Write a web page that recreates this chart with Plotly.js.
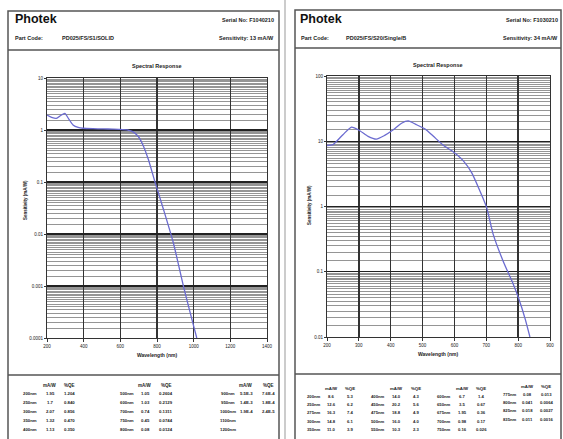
<!DOCTYPE html>
<html>
<head>
<meta charset="utf-8">
<script src="https://cdn.plot.ly/plotly-3.0.1.min.js"></script>
<style>html,body{margin:0;padding:0;background:#fff;}#chart{width:563px;height:439px;}</style>
</head>
<body>
<div id="chart"></div>
<script>
// ---------- DATA ----------
// Left sheet: PD025/FS/S1/SOLID
const leftWavelength = [200, 225, 251, 275, 297, 320, 342, 370, 397, 450, 506, 560, 598, 640, 670, 698, 725, 753, 789, 835, 889, 944, 990, 1017];
const leftSensitivity = [1.94, 1.75, 1.67, 1.9, 2.08, 1.6, 1.25, 1.12, 1.08, 1.06, 1.05, 1.04, 1.03, 1.0, 0.92, 0.75, 0.5, 0.27, 0.1, 0.03, 0.0068, 0.001, 0.00023, 0.0001];
const leftXTicks = [200, 400, 600, 800, 1000, 1200, 1400];
const leftYTicks = [0.0001, 0.001, 0.01, 0.1, 1, 10];
const leftYTickText = ["0.0001", "0.001", "0.01", "0.1", "1", "10"];

// Right sheet: PD025/FS/S20/Single/B
const rightWavelength = [200, 219, 250, 277, 303, 329, 355, 381, 408, 434, 455, 481, 508, 534, 565, 596, 628, 654, 680, 701, 722, 753, 785, 801, 822, 837];
const rightSensitivity = [8.6, 8.9, 12.6, 16.5, 14.5, 11.9, 10.8, 12.3, 15.0, 18.9, 20.5, 17.9, 15.4, 11.9, 8.7, 6.9, 5.0, 3.3, 1.73, 0.97, 0.37, 0.145, 0.064, 0.04, 0.019, 0.01];
const rightXTicks = [200, 300, 400, 500, 600, 700, 800, 900];
const rightYTicks = [0.01, 0.1, 1, 10, 100];
const rightYTickText = ["0.01", "0.1", "1", "10", "100"];

// Tables (wavelength, mA/W, %QE)
const leftTableCols = [
  [["200nm","1.95","1.204"],["250nm","1.7","0.840"],["300nm","2.07","0.856"],["350nm","1.32","0.470"],["400nm","1.13","0.350"]],
  [["500nm","1.05","0.2604"],["600nm","1.03","0.2129"],["700nm","0.74","0.1311"],["750nm","0.45","0.0744"],["800nm","0.08","0.0124"]],
  [["900nm","5.5E-3","7.6E-4"],["950nm","1.4E-3","1.8E-4"],["1000nm","1.9E-4","2.4E-5"],["1100nm","",""],["1200nm","",""]]
];
const rightTableCols = [
  [["200nm","8.6","5.3"],["250nm","12.6","6.2"],["275nm","16.3","7.4"],["300nm","14.8","6.1"],["350nm","11.0","3.9"]],
  [["400nm","14.0","4.3"],["450nm","20.2","5.6"],["475nm","18.8","4.9"],["500nm","16.0","4.0"],["550nm","10.3","2.3"]],
  [["600nm","6.7","1.4"],["650nm","3.5","0.67"],["675nm","1.95","0.36"],["700nm","0.98","0.17"],["750nm","0.16","0.026"]],
  [["775nm","0.08","0.013"],["800nm","0.041","0.0064"],["825nm","0.018","0.0027"],["835nm","0.011","0.0016"]]
];

// ---------- LAYOUT HELPERS ----------
const W = 563, H = 439;
const fx = x => x / W;
const fy = y => 1 - y / H;
const FONT = "Liberation Sans, Arial, sans-serif";
const ann = [];
function txt(x, y, s, size, anchor, color) {
  ann.push({xref:'paper', yref:'paper', x: fx(x), y: fy(y), text: s, showarrow:false,
    xanchor: anchor || 'left', yanchor:'middle',
    font:{family:FONT, size:size, color: color || '#222'}});
}
// dense minor gridline positions (style, per decade at half-unit steps)
function minorVals(lo, hi) {
  const v = [];
  for (let e = lo; e < hi; e++) {
    for (let k = 3; k <= 19; k++) v.push((k / 2) * Math.pow(10, e));
  }
  return v;
}

// headers
txt(13, 19, '<b>Photek</b>', 12.5, 'left', '#111');
txt(276, 20, '<b>Serial No: F1040210</b>', 5.5, 'right');
txt(13, 38, '<b>Part Code:</b>', 5.5, 'left');
txt(60, 38, '<b>PD025/FS/S1/SOLID</b>', 5.5, 'left');
txt(276, 38, '<b>Sensitivity: 13 mA/W</b>', 5.5, 'right');

txt(298, 19, '<b>Photek</b>', 12.5, 'left', '#111');
txt(560, 20, '<b>Serial No: F1030210</b>', 5.5, 'right');
txt(299, 38, '<b>Part Code:</b>', 5.5, 'left');
txt(344, 38, '<b>PD025/FS/S20/Single/B</b>', 5.5, 'left');
txt(560, 38, '<b>Sensitivity: 34 mA/W</b>', 5.5, 'right');

// plot titles
txt(157, 66, '<b>Spectral Response</b>', 5.5, 'center');
txt(438, 65, '<b>Spectral Response</b>', 5.5, 'center');
txt(157, 355, '<b>Wavelength (nm)</b>', 5, 'center');
txt(438, 354, '<b>Wavelength (nm)</b>', 5, 'center');
ann.push({xref:'paper', yref:'paper', x: fx(25), y: fy(200), text:'<b>Sensitivity (mA/W)</b>', textangle:-90,
  showarrow:false, xanchor:'center', yanchor:'middle', font:{family:FONT, size:4.5, color:'#222'}});
ann.push({xref:'paper', yref:'paper', x: fx(309), y: fy(205), text:'<b>Sensitivity (mA/W)</b>', textangle:-90,
  showarrow:false, xanchor:'center', yanchor:'middle', font:{family:FONT, size:4.5, color:'#222'}});

// tables
const leftColX = [[30, 50, 69], [127, 145, 166], [228, 246, 268]];
leftTableCols.forEach((col, ci) => {
  const [xw, xs, xq] = leftColX[ci];
  txt(xs, 385, '<b>mA/W</b>', 4.5, 'center');
  txt(xq, 385, '<b>%QE</b>', 4.5, 'center');
  col.forEach((r, ri) => {
    const y = 393 + ri * 9.2;
    txt(xw, y, '<b>' + r[0] + '</b>', 4.3, 'center');
    if (r[1]) txt(xs, y, '<b>' + r[1] + '</b>', 4.3, 'center');
    if (r[2]) txt(xq, y, '<b>' + r[2] + '</b>', 4.3, 'center');
  });
});
const rightColX = [[314, 331, 350], [378, 396, 416], [444, 462, 481], [510, 527, 546]];
rightTableCols.forEach((col, ci) => {
  const [xw, xs, xq] = rightColX[ci];
  const y0 = ci === 3 ? 386 : 388;
  txt(xs, y0, '<b>mA/W</b>', 4.3, 'center');
  txt(xq, y0, '<b>%QE</b>', 4.3, 'center');
  col.forEach((r, ri) => {
    const y = y0 + 8 + ri * 8.4;
    txt(xw, y, '<b>' + r[0] + '</b>', 4.2, 'center');
    txt(xs, y, '<b>' + r[1] + '</b>', 4.2, 'center');
    txt(xq, y, '<b>' + r[2] + '</b>', 4.2, 'center');
  });
});

// sheet borders / separators
const shapes = [
  {type:'rect', xref:'paper', yref:'paper', x0:fx(8), x1:fx(279), y0:fy(460), y1:fy(11), line:{color:'#555', width:1.5}},
  {type:'rect', xref:'paper', yref:'paper', x0:fx(295), x1:fx(561), y0:fy(460), y1:fy(10), line:{color:'#555', width:1.5}},
  {type:'line', xref:'paper', yref:'paper', x0:fx(285), x1:fx(285), y0:fy(0), y1:fy(439), line:{color:'#999', width:1}},
  {type:'line', xref:'paper', yref:'paper', x0:fx(8), x1:fx(279), y0:fy(50), y1:fy(50), line:{color:'#555', width:1.6}},
  {type:'line', xref:'paper', yref:'paper', x0:fx(295), x1:fx(561), y0:fy(48), y1:fy(48), line:{color:'#555', width:1.6}},
  {type:'line', xref:'paper', yref:'paper', x0:fx(8), x1:fx(279), y0:fy(375), y1:fy(375), line:{color:'#555', width:1.3}},
  {type:'line', xref:'paper', yref:'paper', x0:fx(295), x1:fx(561), y0:fy(374), y1:fy(374), line:{color:'#555', width:1.3}}
];

const traces = [
  {x: leftWavelength, y: leftSensitivity, xaxis:'x', yaxis:'y', type:'scatter', mode:'lines',
   line:{color:'#6b6bd0', width:1.3, shape:'spline', smoothing:0.6}, hoverinfo:'skip'},
  {x: rightWavelength, y: rightSensitivity, xaxis:'x2', yaxis:'y2', type:'scatter', mode:'lines',
   line:{color:'#6b6bd0', width:1.3, shape:'spline', smoothing:0.6}, hoverinfo:'skip'}
];

const xBase = {showgrid:true, gridcolor:'#333', gridwidth:1.3, showline:true, linecolor:'#333', linewidth:1.2,
  mirror:true, ticks:'outside', ticklen:3, tickcolor:'#333', zeroline:false,
  tickfont:{family:FONT, size:4.5, color:'#222'}, fixedrange:true};
const yBase = {type:'log', showgrid:true, gridcolor:'#222', gridwidth:1.2, showline:true, linecolor:'#333', linewidth:1.2,
  mirror:true, ticks:'outside', ticklen:2, tickcolor:'#333', zeroline:false,
  tickfont:{family:FONT, size:4.5, color:'#222'}, fixedrange:true};

const layout = {
  width: W, height: H, margin:{l:0, r:0, t:0, b:0}, paper_bgcolor:'#fff', plot_bgcolor:'#fff',
  showlegend:false,
  xaxis: Object.assign({}, xBase, {domain:[fx(47), fx(267)], anchor:'y', range:[200, 1400], tickvals:leftXTicks, ticktext:leftXTicks.map(String)}),
  yaxis: Object.assign({}, yBase, {domain:[fy(338), fy(78)], anchor:'x', range:[-4, 1], tickvals:leftYTicks, ticktext:leftYTickText,
    minor:{tickmode:'array', tickvals:minorVals(-4, 1), showgrid:true, gridcolor:'#7a7a7a', gridwidth:0.8, ticks:''}}),
  xaxis2: Object.assign({}, xBase, {domain:[fx(327), fx(550)], anchor:'y2', range:[200, 900], tickvals:rightXTicks, ticktext:rightXTicks.map(String)}),
  yaxis2: Object.assign({}, yBase, {domain:[fy(337), fy(76)], anchor:'x2', range:[-2, 2], tickvals:rightYTicks, ticktext:rightYTickText,
    minor:{tickmode:'array', tickvals:minorVals(-2, 2), showgrid:true, gridcolor:'#7a7a7a', gridwidth:0.8, ticks:''}}),
  annotations: ann,
  shapes: shapes
};

Plotly.newPlot('chart', traces, layout, {staticPlot:true, displayModeBar:false});
</script>
</body>
</html>
